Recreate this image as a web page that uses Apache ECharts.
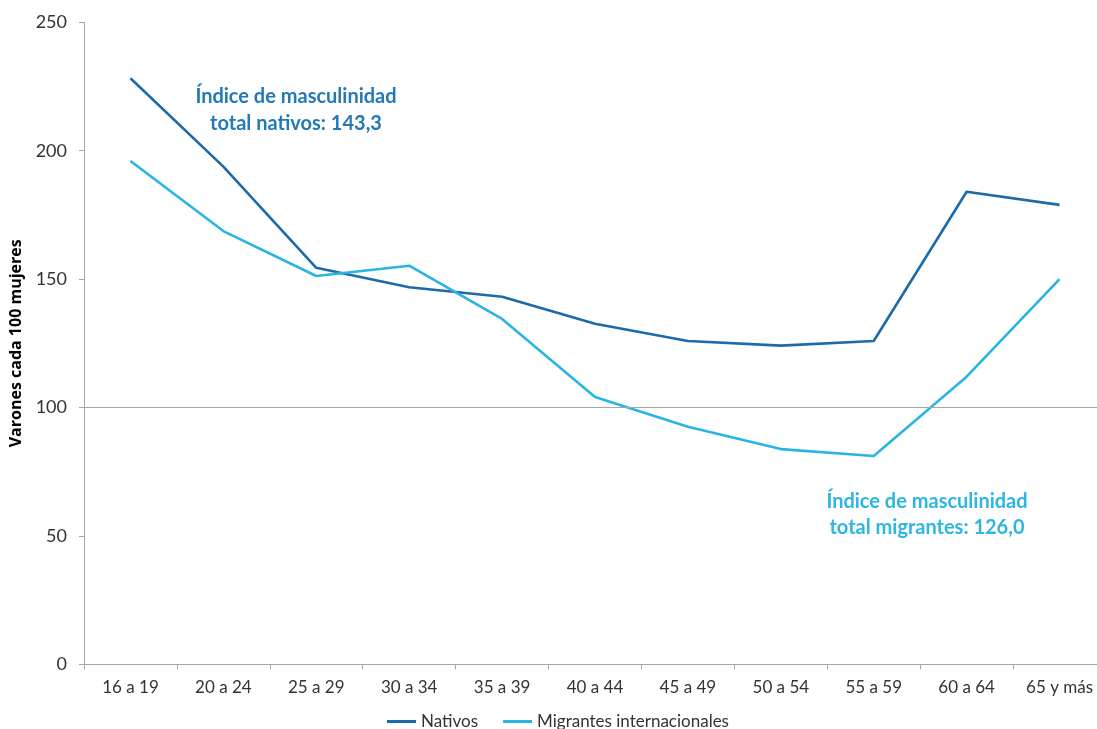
<!DOCTYPE html>
<html>
<head>
<meta charset="utf-8">
<script src="https://cdn.jsdelivr.net/npm/echarts@6/dist/echarts.min.js"></script>
<style>
html,body{margin:0;padding:0;background:#fff;}
#chart{width:1097px;height:729px;}
</style>
</head>
<body>
<div id="chart"></div>
<script>
var categories = ['16 a 19','20 a 24','25 a 29','30 a 34','35 a 39','40 a 44','45 a 49','50 a 54','55 a 59','60 a 64','65 y más'];
var nativos = [228.2, 193.8, 154.4, 146.8, 143.1, 132.6, 125.9, 124.1, 125.9, 184.0, 178.9];
var migrantes = [196.0, 168.7, 151.2, 155.2, 134.5, 104.1, 92.5, 83.8, 81.1, 112.0, 150.0];
var seriesNames = ['Nativos', 'Migrantes internacionales'];
var yTicks = {min: 0, max: 250, interval: 50};
var referenceLevel = 100;
var annotNativos = ['Índice de masculinidad', 'total nativos: 143,3'];
var annotMigrantes = ['Índice de masculinidad', 'total migrantes: 126,0'];
var yAxisTitle = 'Varones cada 100 mujeres';

var cDark = '#1c6aa9';
var cLight = '#29b5e4';
var fontFam = 'Lato, "Open Sans", sans-serif';

var chart = echarts.init(document.getElementById('chart'), null, {renderer: 'canvas'});
chart.setOption({
  animation: false,
  backgroundColor: '#ffffff',
  grid: {left: 84, top: 22.3, width: 1022, bottom: 64.7, containLabel: false, outerBoundsMode: 'none'},
  legend: {
    data: seriesNames,
    left: 382, top: 708,
    itemWidth: 29, itemHeight: 3, itemGap: 25,
    icon: 'rect',
    textStyle: {fontFamily: fontFam, fontSize: 17, color: '#333333'}
  },
  xAxis: {
    type: 'category',
    data: categories,
    boundaryGap: true,
    axisLine: {lineStyle: {color: '#a6a6a6', width: 1}},
    axisTick: {show: true, length: 5, lineStyle: {color: '#a6a6a6'}},
    axisLabel: {fontFamily: fontFam, fontSize: 17, color: '#333333', margin: 15, interval: 0}
  },
  yAxis: {
    type: 'value',
    min: yTicks.min, max: yTicks.max, interval: yTicks.interval,
    name: yAxisTitle,
    nameLocation: 'middle',
    nameGap: 60,
    nameTextStyle: {fontFamily: '"Open Sans", sans-serif', fontSize: 16, fontWeight: 'bold', color: '#000000'},
    axisLine: {show: true, lineStyle: {color: '#a6a6a6', width: 1}},
    axisTick: {show: true, length: 5, lineStyle: {color: '#a6a6a6'}},
    splitLine: {show: false},
    axisLabel: {fontFamily: fontFam, fontSize: 18, color: '#333333', margin: 17}
  },
  series: [
    {
      name: seriesNames[0], type: 'line', data: nativos,
      symbol: 'none', color: cDark,
      lineStyle: {width: 2.6, color: cDark},
      z: 3,
      markLine: {
        silent: true, symbol: 'none', label: {show: false},
        lineStyle: {color: '#a6a6a6', width: 1, type: 'solid'},
        data: [{yAxis: referenceLevel}]
      }
    },
    {
      name: seriesNames[1], type: 'line', data: migrantes,
      symbol: 'none', color: cLight,
      lineStyle: {width: 2.6, color: cLight},
      z: 4
    }
  ],
  graphic: [
    {type: 'text', x: 296, y: 97, style: {text: annotNativos[0], fill: '#2279b8', font: 'bold 20px ' + fontFam, textAlign: 'center', textVerticalAlign: 'middle'}},
    {type: 'text', x: 296, y: 124, style: {text: annotNativos[1], fill: '#2279b8', font: 'bold 20px ' + fontFam, textAlign: 'center', textVerticalAlign: 'middle'}},
    {type: 'text', x: 927, y: 502, style: {text: annotMigrantes[0], fill: '#2db6e2', font: 'bold 20px ' + fontFam, textAlign: 'center', textVerticalAlign: 'middle'}},
    {type: 'text', x: 927, y: 528, style: {text: annotMigrantes[1], fill: '#2db6e2', font: 'bold 20px ' + fontFam, textAlign: 'center', textVerticalAlign: 'middle'}}
  ]
});
</script>
</body>
</html>
